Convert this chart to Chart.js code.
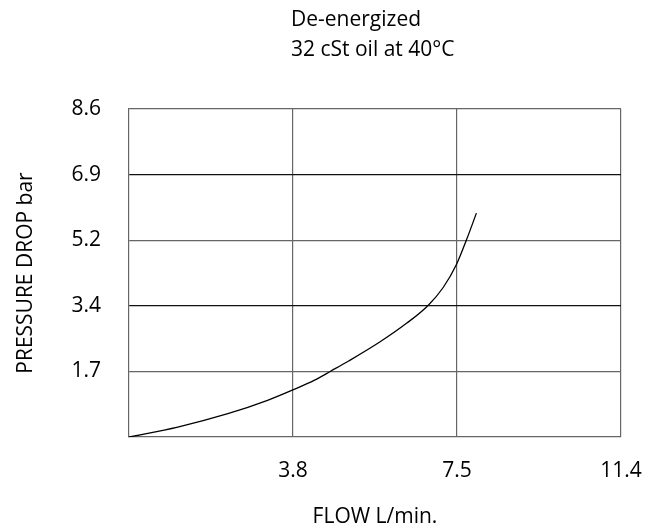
<!DOCTYPE html>
<html>
<head>
<meta charset="utf-8">
<script src="https://cdn.jsdelivr.net/npm/chart.js@4"></script>
<style>
  html, body { margin: 0; padding: 0; background: #fff; }
  #wrap { width: 650px; height: 528px; }
</style>
</head>
<body>
<div id="wrap"><canvas id="grafico"></canvas></div>
<script>
// curve (L/min, bar)
var flow     = [0, 1.13, 2.29, 3.21, 3.81, 4.30, 4.68, 5.10, 5.81, 6.43, 6.93, 7.28, 7.59, 7.82, 8.05];
var pressure = [0, 0.26, 0.61, 0.96, 1.24, 1.49, 1.73, 2.00, 2.49, 2.98, 3.45, 3.92, 4.53, 5.17, 5.87];

// grid positions and the labels printed on them
var xTickValues = [3.8, 7.6, 11.4];
var xTickLabels = ['3.8', '7.5', '11.4'];
var yTickValues = [1.72, 3.44, 5.16, 6.88, 8.6];
var yTickLabels = ['1.7', '3.4', '5.2', '6.9', '8.6'];

var titleLines = ['De-energized', '32 cSt oil at 40°C'];

var fontFamily = '"Open Sans", "Liberation Sans", Arial, sans-serif';
var fontSize = 21;

var puntos = flow.map(function (f, i) { return { x: f, y: pressure[i] }; });

// draws the two heading lines, left aligned like the original
var encabezado = {
    id: 'encabezado',
    afterDraw: function (chart) {
        var c = chart.ctx;
        c.save();
        c.fillStyle = '#000';
        c.font = fontSize + 'px ' + fontFamily;
        c.textAlign = 'left';
        c.textBaseline = 'middle';
        c.fillText(titleLines[0], 291, 20);
        c.fillText(titleLines[1], 291, 50);
        c.restore();
    }
};

var ctx = document.getElementById('grafico').getContext('2d');
var grafico = new Chart(ctx, {
    type: 'line',
    data: {
        datasets: [{
            data: puntos,
            borderColor: '#000',
            borderWidth: 1.3,
            pointRadius: 0,
            fill: false,
            cubicInterpolationMode: 'monotone'
        }]
    },
    options: {
        responsive: true,
        maintainAspectRatio: false,
        animation: false,
        layout: { padding: { top: 109, right: 29, left: 4, bottom: 0 } },
        plugins: {
            legend: { display: false },
            tooltip: { enabled: false }
        },
        scales: {
            x: {
                type: 'linear',
                min: 0,
                max: 11.4,
                afterBuildTicks: function (s) {
                    s.ticks = xTickValues.map(function (v) { return { value: v }; });
                },
                afterFit: function (s) { s.height = 91; },
                ticks: {
                    color: '#000',
                    padding: 0,
                    maxRotation: 0,
                    font: { family: fontFamily, size: fontSize },
                    callback: function (v) {
                        var i = xTickValues.indexOf(v);
                        return i >= 0 ? xTickLabels[i] : '';
                    }
                },
                // invisible tick marks push the labels down without adding side padding
                grid: { color: '#666', lineWidth: 1.2, drawTicks: true, tickLength: 21, tickColor: 'rgba(0,0,0,0)' },
                border: { color: '#666', width: 1.2 },
                title: {
                    display: true,
                    text: 'FLOW L/min.',
                    color: '#000',
                    font: { family: fontFamily, size: fontSize },
                    padding: { top: 0, bottom: -2 }
                }
            },
            y: {
                type: 'linear',
                min: 0,
                max: 8.6,
                afterBuildTicks: function (s) {
                    s.ticks = yTickValues.map(function (v) { return { value: v }; });
                },
                afterFit: function (s) { s.width = 125; },
                ticks: {
                    color: '#000',
                    padding: 28,
                    font: { family: fontFamily, size: fontSize },
                    callback: function (v) {
                        var i = yTickValues.indexOf(v);
                        return i >= 0 ? yTickLabels[i] : '';
                    }
                },
                grid: {
                    // 6.9 and 3.4 lines are darker in the original
                    color: function (c) { return (c.index === 1 || c.index === 3) ? '#111' : '#666'; },
                    lineWidth: 1.2,
                    drawTicks: false
                },
                border: { color: '#666', width: 1.2 },
                title: {
                    display: true,
                    text: 'PRESSURE DROP bar',
                    color: '#000',
                    font: { family: fontFamily, size: fontSize },
                    padding: { top: 9, bottom: 0 }
                }
            }
        }
    },
    plugins: [encabezado]
});
</script>
</body>
</html>
